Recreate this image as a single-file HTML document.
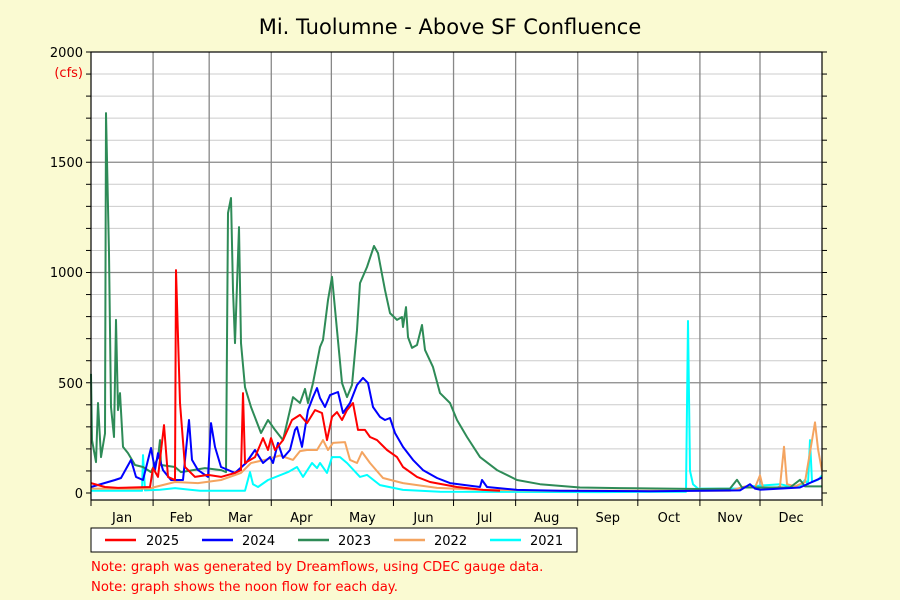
<!DOCTYPE html>
<html><head><style>
body{margin:0;background:#fafad2;}
svg{display:block;font-family:"DejaVu Sans","Liberation Sans",sans-serif;}
</style></head><body>
<svg id="s" width="900" height="600" xmlns="http://www.w3.org/2000/svg">
<rect width="900" height="600" fill="#fafad2"/>
<rect x="91" y="52" width="731" height="448" fill="#fff"/>
<g id="grid"></g>
<g id="series" fill="none" stroke-width="2" stroke-linejoin="round"></g>
<rect x="91" y="52" width="731" height="448" fill="none" stroke="#000" stroke-width="1.2"/>
<text x="450" y="34" font-size="21" text-anchor="middle" fill="#000">Mi. Tuolumne - Above SF Confluence</text>
<text x="83" y="57" font-size="13" text-anchor="end">2000</text>
<text x="83" y="77" font-size="13" text-anchor="end" fill="#e00">(cfs)</text>
<text x="83" y="167" font-size="13" text-anchor="end">1500</text>
<text x="83" y="277" font-size="13" text-anchor="end">1000</text>
<text x="83" y="388" font-size="13" text-anchor="end">500</text>
<text x="83" y="498" font-size="13" text-anchor="end">0</text>
<g id="months" font-size="13" text-anchor="middle"></g>
<rect x="91" y="528" width="486" height="24" fill="#fff" stroke="#000" stroke-width="1"/>
<g font-size="13" stroke-width="2.5">
<line x1="105" y1="540" x2="136" y2="540" stroke="#f00"/><text x="146" y="545">2025</text>
<line x1="202" y1="540" x2="233" y2="540" stroke="#00f"/><text x="242" y="545">2024</text>
<line x1="298" y1="540" x2="329" y2="540" stroke="#2e8b57"/><text x="338" y="545">2023</text>
<line x1="394" y1="540" x2="425" y2="540" stroke="#f4a460"/><text x="434" y="545">2022</text>
<line x1="490" y1="540" x2="521" y2="540" stroke="#0ff"/><text x="530" y="545">2021</text>
</g>
<text x="91" y="571" font-size="13.2" fill="#f00">Note: graph was generated by Dreamflows, using CDEC gauge data.</text>
<text x="91" y="591" font-size="13.2" fill="#f00">Note: graph shows the noon flow for each day.</text>
</svg>
<script>
const NS="http://www.w3.org/2000/svg";
const X=d=>91+d*2.003, Y=v=>493-v*0.2205;
function el(p,n,a){const e=document.createElementNS(NS,n);for(const k in a)e.setAttribute(k,a[k]);p.appendChild(e);return e;}
const g=document.getElementById('grid');
for(let v=100;v<2000;v+=100){const maj=v%500==0;el(g,'line',{x1:91,x2:822,y1:Y(v),y2:Y(v),stroke:maj?'#888':'#ccc','stroke-width':maj?1.3:1});
el(g,'line',{x1:86,x2:91,y1:Y(v),y2:Y(v),stroke:'#000'});el(g,'line',{x1:822,x2:827,y1:Y(v),y2:Y(v),stroke:'#000'});}
for(const v of [0,2000]){el(g,'line',{x1:86,x2:91,y1:Y(v),y2:Y(v),stroke:'#000'});el(g,'line',{x1:822,x2:827,y1:Y(v),y2:Y(v),stroke:'#000'});}
const mb=[0,31,59,90,120,151,181,212,243,273,304,334,365];
const mn=['Jan','Feb','Mar','Apr','May','Jun','Jul','Aug','Sep','Oct','Nov','Dec'];
const m=document.getElementById('months');
mb.forEach((d,i)=>{if(i>0&&i<12)el(g,'line',{x1:X(d),x2:X(d),y1:52,y2:500,stroke:'#888','stroke-width':1.3});
el(g,'line',{x1:X(d),x2:X(d),y1:500,y2:506,stroke:'#000'});
if(i<12){const t=el(m,'text',{x:(X(d)+X(mb[i+1]))/2,y:522});t.textContent=mn[i];}});
const S=[
['#0ff',[91,10,142,10,143,172,145,12,160,15,175,22,190,15,200,10,245,10,250,95,253,40,258,27,268,59,288,95,297,118,303,73,312,136,317,113,320,136,327,91,332,163,340,163,347,136,360,73,367,82,380,36,403,14,440,6,500,5,600,4,686,6,688,780,690,100,693,40,698,20,740,20,750,30,780,40,790,30,800,30,805,60,808,40,810,240,812,50,818,60,822,80]],
['#f4a460',[91,20,150,20,155,27,175,50,198,45,221,59,241,91,251,136,265,150,280,170,293,150,300,190,307,195,317,195,323,240,328,195,333,227,345,231,350,150,357,136,362,186,370,136,383,68,403,45,437,23,480,15,550,10,650,10,730,10,745,30,755,25,760,80,763,25,775,20,780,30,784,210,787,40,795,30,805,50,815,320,818,200,822,100]],
['#2e8b57',[91,540,92,240,96,140,98,408,101,163,105,270,106,1723,109,1088,111,390,114,254,116,785,118,376,120,453,123,209,128,181,135,127,143,118,151,95,158,160,160,240,161,127,175,118,181,95,205,113,221,104,226,95,228,1270,231,1338,233,920,235,680,239,1206,241,680,245,480,251,390,261,272,268,331,275,286,283,240,293,435,300,408,305,472,308,408,313,499,320,662,323,694,328,875,332,980,337,739,342,499,347,435,352,490,357,739,360,952,367,1025,374,1120,378,1088,385,920,390,816,397,785,402,798,403,753,406,843,408,707,412,658,417,671,422,762,425,649,433,571,440,453,450,408,457,331,467,254,480,163,497,104,517,59,540,40,580,25,620,22,700,18,730,20,737,60,742,25,760,25,790,25,800,60,805,30,822,30]],
['#00f',[91,27,115,59,121,68,131,150,136,73,143,59,151,204,155,104,158,181,163,104,171,59,183,59,189,331,192,150,198,104,208,73,211,317,215,209,221,118,235,91,246,136,255,195,263,136,270,163,273,136,278,227,283,159,290,195,295,286,297,299,302,209,308,376,313,435,317,476,320,431,325,390,330,444,338,458,343,363,350,408,357,490,363,522,368,499,373,390,380,345,385,331,390,340,395,272,403,209,413,150,423,104,437,68,450,45,480,27,482,59,487,27,517,14,560,10,650,8,740,12,750,40,755,20,760,15,800,25,812,50,822,70]],
['#f00',[91,45,105,27,118,23,150,27,153,113,158,73,164,308,168,73,175,59,176,1011,180,408,185,118,195,73,208,82,221,73,235,91,241,104,243,453,245,136,255,163,263,249,268,195,271,249,275,195,283,240,292,331,300,354,307,317,315,376,322,363,327,240,332,345,337,367,342,331,347,376,353,408,358,286,365,286,370,254,377,240,387,195,397,163,403,118,417,73,430,50,457,27,483,14,500,10]]];
const sg=document.getElementById('series');
S.forEach(([c,a])=>{let p=[];for(let i=0;i<a.length;i+=2)p.push(a[i]+','+Y(a[i+1]).toFixed(1));el(sg,'polyline',{points:p.join(' '),stroke:c});});
</script>
</body></html>
